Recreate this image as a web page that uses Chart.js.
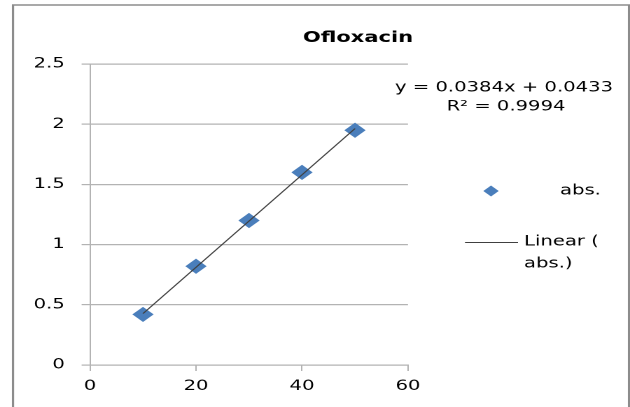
<!DOCTYPE html>
<html>
<head>
<meta charset="utf-8">
<script src="https://cdn.jsdelivr.net/npm/chart.js@4.4.1/dist/chart.umd.min.js"></script>
<style>
  html, body { margin: 0; padding: 0; background: #fff; }
  #wrap { width: 630px; height: 407px; overflow: hidden; position: relative; }
  /* the reference is stretched sideways, so the chart is drawn narrow and widened */
  #c { position: absolute; left: 0; top: 0; transform: scaleX(1.4); transform-origin: 0 0; }
</style>
</head>
<body>
<div id="wrap"><canvas id="c" width="450" height="407"></canvas></div>
<script>
const concX = [10, 20, 30, 40, 50];
const absY = [0.42, 0.82, 1.2, 1.6, 1.95];
const trendX = [10, 50];
const trendY = [0.4273, 1.9633];
const xTicks = [0, 20, 40, 60];
const yTicks = [0, 0.5, 1, 1.5, 2, 2.5];
const titleText = "Ofloxacin";
const eqText = "y = 0.0384x + 0.0433";
const r2Text = "R\u00b2 = 0.9994";
const legendLabels = ["abs.", "Linear (abs.)"];

const S = 1.4; // horizontal stretch
const W = 630 / S;
const FONT = "DejaVu Sans";
const blue = "#4a7ebb";
const gray = "#b3b3b3";

const extras = {
  id: "extras",
  afterDraw(chart) {
    const ctx = chart.ctx;
    ctx.save();
    // outer frame
    ctx.strokeStyle = "#8c8c8c";
    ctx.beginPath();
    ctx.moveTo(13 / S, 420);
    ctx.lineTo(13 / S, 5);
    ctx.lineTo(629 / S, 5);
    ctx.lineTo(629 / S, 420);
    ctx.lineWidth = 1.6;
    ctx.stroke();

    ctx.fillStyle = "#000";
    ctx.textBaseline = "middle";
    // title
    ctx.font = "bold 15px '" + FONT + "'";
    ctx.textAlign = "center";
    ctx.fillText(titleText, 358 / S, 38);
    // trendline equation
    ctx.font = "14px '" + FONT + "'";
    ctx.fillText(eqText, 504 / S, 88);
    ctx.fillText(r2Text, 506 / S, 107);

    // legend
    ctx.textAlign = "left";
    const cx = 491 / S, cy = 191, r = 5.5;
    ctx.fillStyle = blue;
    ctx.beginPath();
    ctx.moveTo(cx, cy - r);
    ctx.lineTo(cx + r, cy);
    ctx.lineTo(cx, cy + r);
    ctx.lineTo(cx - r, cy);
    ctx.closePath();
    ctx.fill();
    ctx.fillStyle = "#000";
    ctx.fillText(legendLabels[0], 560 / S, 191);

    ctx.strokeStyle = "#404040";
    ctx.lineWidth = 1;
    ctx.beginPath();
    ctx.moveTo(465 / S, 242.5);
    ctx.lineTo(518 / S, 242.5);
    ctx.stroke();
    const parts = legendLabels[1].split(" ");
    ctx.fillText(parts[0] + " (", 524 / S, 242);
    ctx.fillText(parts[1].replace("(", ""), 524 / S, 264);
    ctx.restore();
  }
};

new Chart(document.getElementById("c"), {
  type: "scatter",
  data: {
    datasets: [
      {
        label: legendLabels[1],
        type: "line",
        data: trendX.map((x, i) => ({ x: x, y: trendY[i] })),
        borderColor: "#404040",
        borderWidth: 1,
        pointRadius: 0,
        fill: false,
        order: 0,
      },
      {
        label: legendLabels[0],
        data: concX.map((x, i) => ({ x: x, y: absY[i] })),
        pointStyle: "rectRot",
        pointRadius: 7.6,
        pointHoverRadius: 7.6,
        backgroundColor: blue,
        borderColor: blue,
        borderWidth: 0,
        order: 1,
      },
    ],
  },
  options: {
    responsive: false,
    animation: false,
    devicePixelRatio: 2,
    layout: { padding: { left: 0, top: 64, right: W - 408 / S, bottom: 0 } },
    plugins: { legend: { display: false }, title: { display: false }, tooltip: { enabled: false } },
    scales: {
      x: {
        type: "linear",
        min: 0,
        max: 60,
        afterBuildTicks: (scale) => { scale.ticks = xTicks.map((v) => ({ value: v })); },
        afterFit: (scale) => { scale.height = 42; },
        grid: { drawOnChartArea: false, color: gray, tickLength: 6 },
        border: { color: gray, width: 1 },
        ticks: { color: "#000", padding: 7, font: { family: FONT, size: 14 }, callback: (v) => String(v) },
      },
      y: {
        min: 0,
        max: 2.5,
        afterBuildTicks: (scale) => { scale.ticks = yTicks.map((v) => ({ value: v })); },
        afterFit: (scale) => { scale.width = 90 / S; },
        grid: { color: gray, tickLength: 6, lineWidth: 1.2 },
        border: { color: gray, width: 1 },
        ticks: { color: "#000", padding: 12, font: { family: FONT, size: 14 }, callback: (v) => String(v) },
      },
    },
  },
  plugins: [extras],
});
</script>
</body>
</html>
